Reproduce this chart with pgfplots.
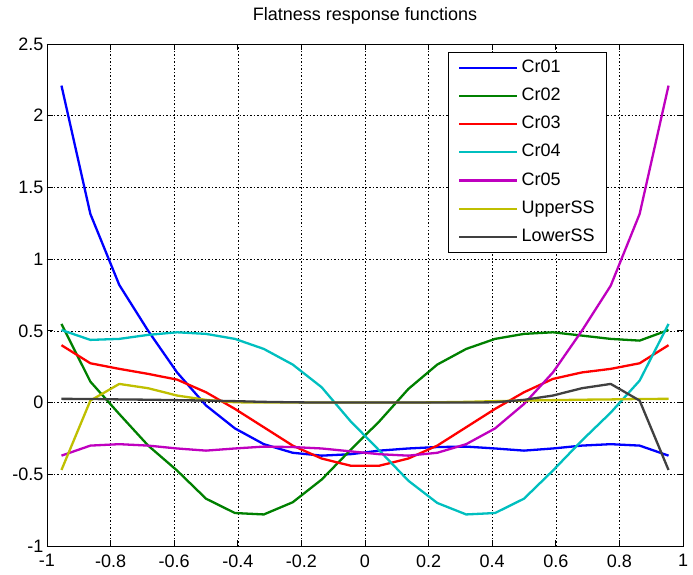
\documentclass[border=0pt]{standalone}
\usepackage{pgfplots}
\pgfplotsset{compat=1.18}
\usepackage{pgfplotstable}
\usepackage{fontspec}
\setmainfont{Liberation Sans}
\definecolor{mblue}{rgb}{0,0,1}
\definecolor{mgreen}{rgb}{0,0.5,0}
\definecolor{mred}{rgb}{1,0,0}
\definecolor{mcyan}{rgb}{0,0.75,0.75}
\definecolor{mmag}{rgb}{0.75,0,0.75}
\definecolor{myel}{rgb}{0.75,0.75,0}
\definecolor{mgray}{rgb}{0.25,0.25,0.25}
\pgfplotstableread{
x        c1     c2     c3     c4     c5     up     lo
-0.9545  2.21   0.548  0.40   0.506  -0.37  -0.47  0.026
-0.8636  1.315  0.146  0.274  0.437  -0.30  0.014  0.025
-0.7727  0.82   -0.08  0.235  0.444  -0.29  0.13   0.022
-0.6818  0.50   -0.30  0.20   0.472  -0.30  0.10   0.02
-0.5909  0.21   -0.474 0.16   0.49   -0.32  0.049  0.017
-0.5     -0.02  -0.67  0.072  0.479  -0.335 0.019  0.014
-0.4091  -0.18  -0.77  -0.044 0.444  -0.32  0.002  0.01
-0.3182  -0.29  -0.78  -0.172 0.374  -0.307 0      0.005
-0.2273  -0.35  -0.695 -0.30  0.265  -0.31  0      0.002
-0.1364  -0.37  -0.537 -0.39  0.107  -0.32  0      0
-0.0455  -0.36  -0.33  -0.44  -0.13  -0.34  0      0
0.0455   -0.335 -0.13  -0.44  -0.335 -0.36  0      0
0.1364   -0.32  0.095  -0.39  -0.545 -0.37  0      0
0.2273   -0.31  0.265  -0.30  -0.70  -0.35  0.002  0
0.3182   -0.307 0.374  -0.172 -0.78  -0.29  0.005  0
0.4091   -0.32  0.444  -0.044 -0.77  -0.18  0.01   0.002
0.5      -0.335 0.479  0.072  -0.67  -0.01  0.014  0.019
0.5909   -0.32  0.49   0.165  -0.474 0.21   0.017  0.049
0.6818   -0.30  0.467  0.21   -0.265 0.50   0.02   0.10
0.7727   -0.29  0.444  0.235  -0.07  0.815  0.022  0.13
0.8636   -0.30  0.432  0.274  0.153  1.315  0.025  0.014
0.9545   -0.37  0.506  0.40   0.548  2.21   0.026  -0.47
}\datatable
\begin{document}
\begin{tikzpicture}
\useasboundingbox (-47pt,-28pt) rectangle (646pt,546pt);
\begin{axis}[
  at={(0,0)}, anchor=south west,
  scale only axis, width=636pt, height=502pt,
  xmin=-1, xmax=1, ymin=-1, ymax=2.5,
  xtick={-1,-0.8,...,1.01}, ytick={-1,-0.5,...,2.51},
  /pgf/number format/assume math mode=true,
  /pgf/number format/fixed,
  ticklabel style={font=\fontsize{18}{21}\selectfont},
  xticklabel style={yshift=-5pt},
  yticklabel style={xshift=0pt},
  xmajorgrids, ymajorgrids,
  grid style={black, line width=0.6pt, dash pattern=on 1.5pt off 2pt},
  axis line style={black, line width=0.9pt},
  tick style={black, line width=0.9pt},
  major tick length=6pt,
  tick align=inside,
  title={Flatness response functions},
  title style={font=\fontsize{18}{21}\selectfont, at={(0.5,1)}, anchor=center, yshift=22pt},
  legend cell align=left,
  legend image code/.code={\draw[#1, line width=2.2pt] (0pt,0pt) -- (58pt,0pt);},
  legend style={at={(0.8805,0.9845)}, anchor=north east, draw=black, line width=0.9pt,
    font=\fontsize{18}{21}\selectfont, fill=white,
    inner xsep=10pt, inner ysep=5pt,
    nodes={inner sep=2pt, text height=13pt, text depth=4pt},
    row sep=7.2pt, column sep=1pt},
  every axis plot/.append style={line width=2.3pt, line join=round},
]
\addplot[mblue] table[x=x,y=c1]{\datatable};
\addplot[mgreen] table[x=x,y=c2]{\datatable};
\addplot[mred] table[x=x,y=c3]{\datatable};
\addplot[mcyan] table[x=x,y=c4]{\datatable};
\addplot[mmag] table[x=x,y=c5]{\datatable};
\addplot[myel] table[x=x,y=up]{\datatable};
\addplot[mgray] table[x=x,y=lo]{\datatable};
\legend{Cr01,Cr02,Cr03,Cr04,Cr05,UpperSS,LowerSS}
\end{axis}
\end{tikzpicture}
\end{document}
